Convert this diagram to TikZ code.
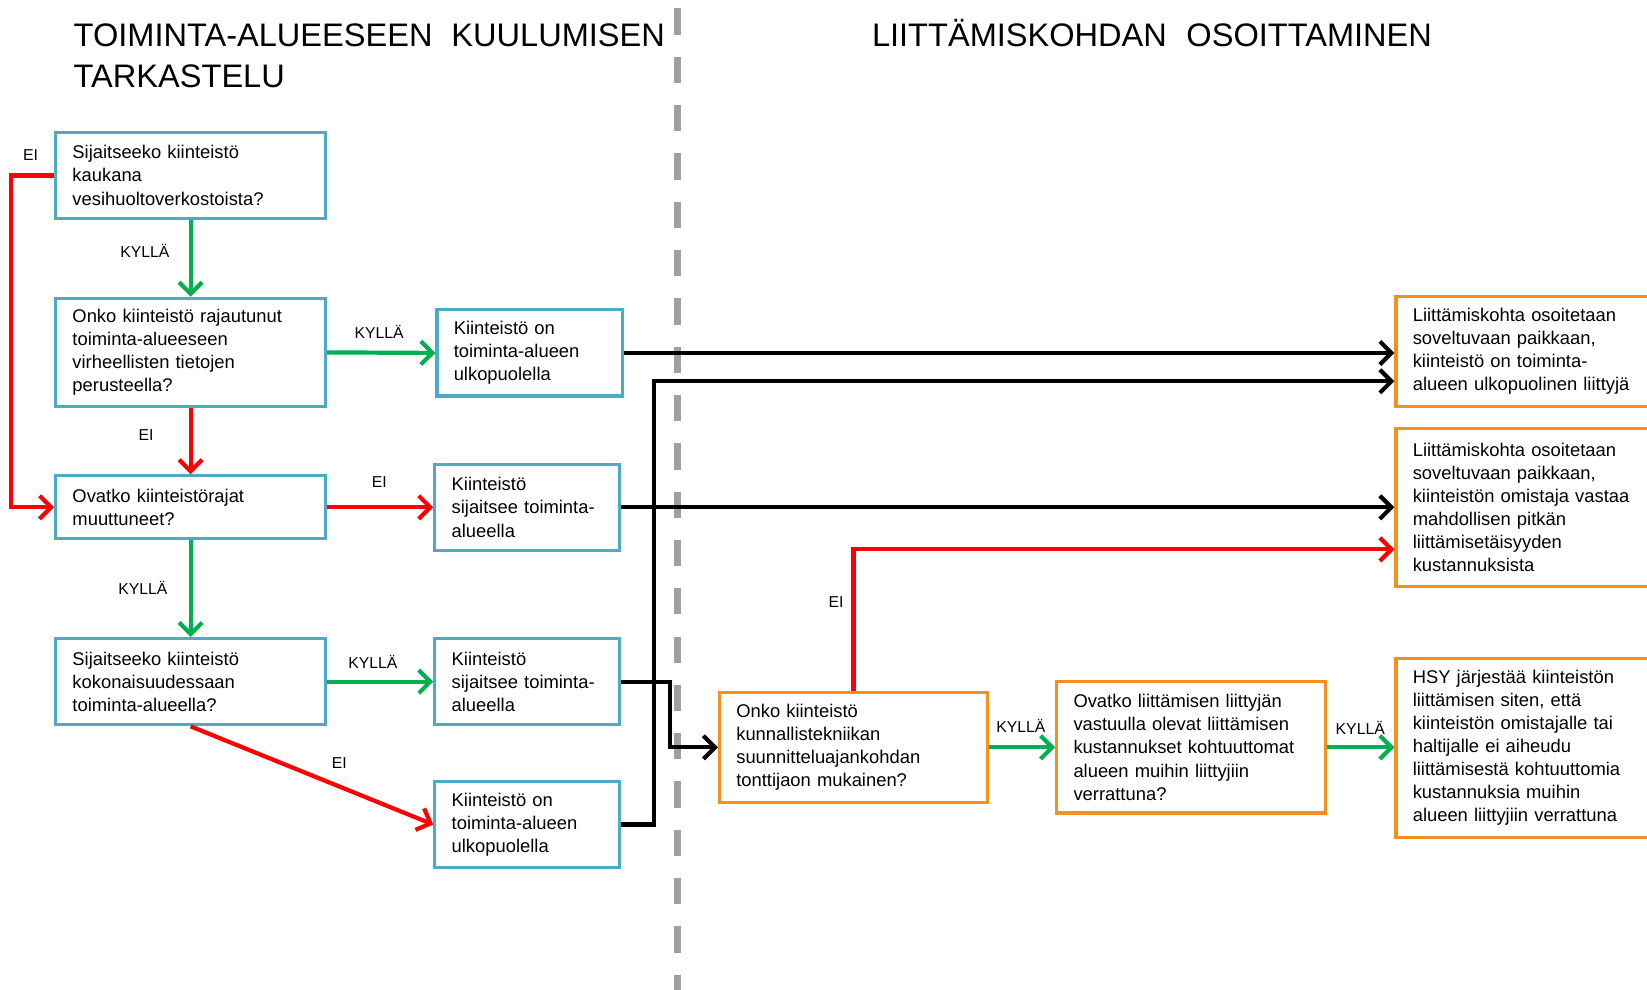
\documentclass[tikz,border=0pt]{standalone}
\usepackage{fontspec}
\setmainfont{Liberation Sans}
\usetikzlibrary{arrows.meta}
\definecolor{boxblue}{RGB}{75,172,198}
\definecolor{boxorange}{RGB}{247,143,30}
\definecolor{ygreen}{RGB}{0,176,80}
\definecolor{nred}{RGB}{255,0,0}
\definecolor{dgray}{RGB}{160,160,160}
\begin{document}
\begin{tikzpicture}[x=1pt,y=-1pt,
 bbox/.style={draw=boxblue, line width=3pt, align=left, inner xsep=16pt, inner ysep=0pt,
   font=\fontsize{17.5}{22}\selectfont, anchor=center},
 obox/.style={bbox, draw=boxorange},
 lab/.style={font=\fontsize{15}{18}\selectfont, inner sep=0pt},
 ttl/.style={font=\fontsize{31}{38.5}\selectfont, inner sep=0pt, align=left, anchor=base west},
 conn/.style={line width=4pt, -{Straight Barb[length=11pt,width=22pt]}},
 yes/.style={conn, draw=ygreen},
 no/.style={conn, draw=nred},
 blk/.style={conn, draw=black},
]
\useasboundingbox (0,0) rectangle (1568,942);
\clip (0,0) rectangle (1568,942);
\fill[white] (0,0) rectangle (1568,942);

% divider
\draw[dgray, line width=6pt, dash pattern=on 25pt off 21pt] (645,8) -- (645,950);

% titles
\node[ttl] (title1) at (70,83) {TOIMINTA-ALUEESEEN\hspace{0.58em}KUULUMISEN\\TARKASTELU};
\node[ttl] (title2) at (830,44.5) {LIITTÄMISKOHDAN\hspace{0.6em}OSOITTAMINEN};

% left column
\node[bbox, text width=225pt, minimum height=82pt] (B1) at (181.5,167) {Sijaitseeko kiinteistö\\kaukana\\vesihuoltoverkostoista?};
\node[bbox, text width=225pt, minimum height=103pt] (B2) at (181.5,335.5) {Onko kiinteistö rajautunut\\toiminta-alueeseen\\virheellisten tietojen\\perusteella?};
\node[bbox, text width=225pt, minimum height=60pt] (B3) at (181.5,483) {Ovatko kiinteistörajat\\muuttuneet?};
\node[bbox, text width=225pt, minimum height=82pt] (B4) at (181.5,649) {Sijaitseeko kiinteistö\\kokonaisuudessaan\\toiminta-alueella?};

\node[bbox, text width=145pt, minimum height=82pt] (R1) at (504.5,336) {Kiinteistö on\\toiminta-alueen\\ulkopuolella};
\node[bbox, text width=144pt, minimum height=82pt] (R2) at (502,483) {Kiinteistö\\sijaitsee toiminta-\\alueella};
\node[bbox, text width=144pt, minimum height=82pt] (R3) at (502,649) {Kiinteistö\\sijaitsee toiminta-\\alueella};
\node[bbox, text width=144pt, minimum height=82pt] (R4) at (502,785) {Kiinteistö on\\toiminta-alueen\\ulkopuolella};

% right column
\node[obox, text width=223pt, minimum height=105pt] (O1) at (812.5,711.5) {Onko kiinteistö\\kunnallistekniikan\\suunnitteluajankohdan\\tonttijaon mukainen?};
\node[obox, text width=224pt, minimum height=125pt] (O2) at (1134,711.5) {Ovatko liittämisen liittyjän\\vastuulla olevat liittämisen\\kustannukset kohtuuttomat\\alueen muihin liittyjiin\\verrattuna?};
\node[obox, text width=228pt, minimum height=170pt] (O3) at (1459,712) {HSY järjestää kiinteistön\\liittämisen siten, että\\kiinteistön omistajalle tai\\haltijalle ei aiheudu\\liittämisestä kohtuuttomia\\kustannuksia muihin\\alueen liittyjiin verrattuna};
\node[obox, text width=228pt, minimum height=105pt] (T1) at (1459,334.5) {Liittämiskohta osoitetaan\\soveltuvaan paikkaan,\\kiinteistö on toiminta-\\alueen ulkopuolinen liittyjä};
\node[obox, text width=228pt, minimum height=150pt] (T2) at (1459,483) {Liittämiskohta osoitetaan\\soveltuvaan paikkaan,\\kiinteistön omistaja vastaa\\mahdollisen pitkän\\liittämisetäisyyden\\kustannuksista};

% connectors
\draw[no] (B1.west) -- ++(-41,0) |- (B3.west);
\draw[yes] (B1.south) -- (B2.north);
\draw[no] (B2.south) -- (B3.north);
\draw[yes] (B2.east) -- (R1.west);
\draw[no] (B3.east) -- (R2.west);
\draw[yes] (B3.south) -- (B4.north);
\draw[yes] (B4.east) -- (R3.west);
\draw[no] (B4.south) -- (R4.west);
\draw[blk] (R1.east) -- (R1.east -| T1.west);
\draw[blk] (R4.east) -- ++(31,0) |- ([yshift=-28.5pt]T1.west);
\draw[blk] (R2.east) -- (R2.east -| T2.west);
\draw[blk] (R3.east) -- ++(46,0) |- (O1.west);
\draw[no] (O1.north) |- ([yshift=-40pt]T2.west);
\draw[yes] (O1.east) -- (O2.west);
\draw[yes] (O2.east) -- (O2.east -| O3.west);

% labels
\node[lab] (l1) at (29,148) {EI};
\node[lab] (l2) at (138,239) {KYLLÄ};
\node[lab] (l3) at (139,414) {EI};
\node[lab] (l4) at (361,316) {KYLLÄ};
\node[lab] (l5) at (361,459) {EI};
\node[lab] (l6) at (136,560) {KYLLÄ};
\node[lab] (l7) at (355,630) {KYLLÄ};
\node[lab] (l8) at (323,726) {EI};
\node[lab] (l9) at (796,573) {EI};
\node[lab] (l10) at (972,691) {KYLLÄ};
\node[lab] (l11) at (1295,693) {KYLLÄ};
\end{tikzpicture}
\end{document}
